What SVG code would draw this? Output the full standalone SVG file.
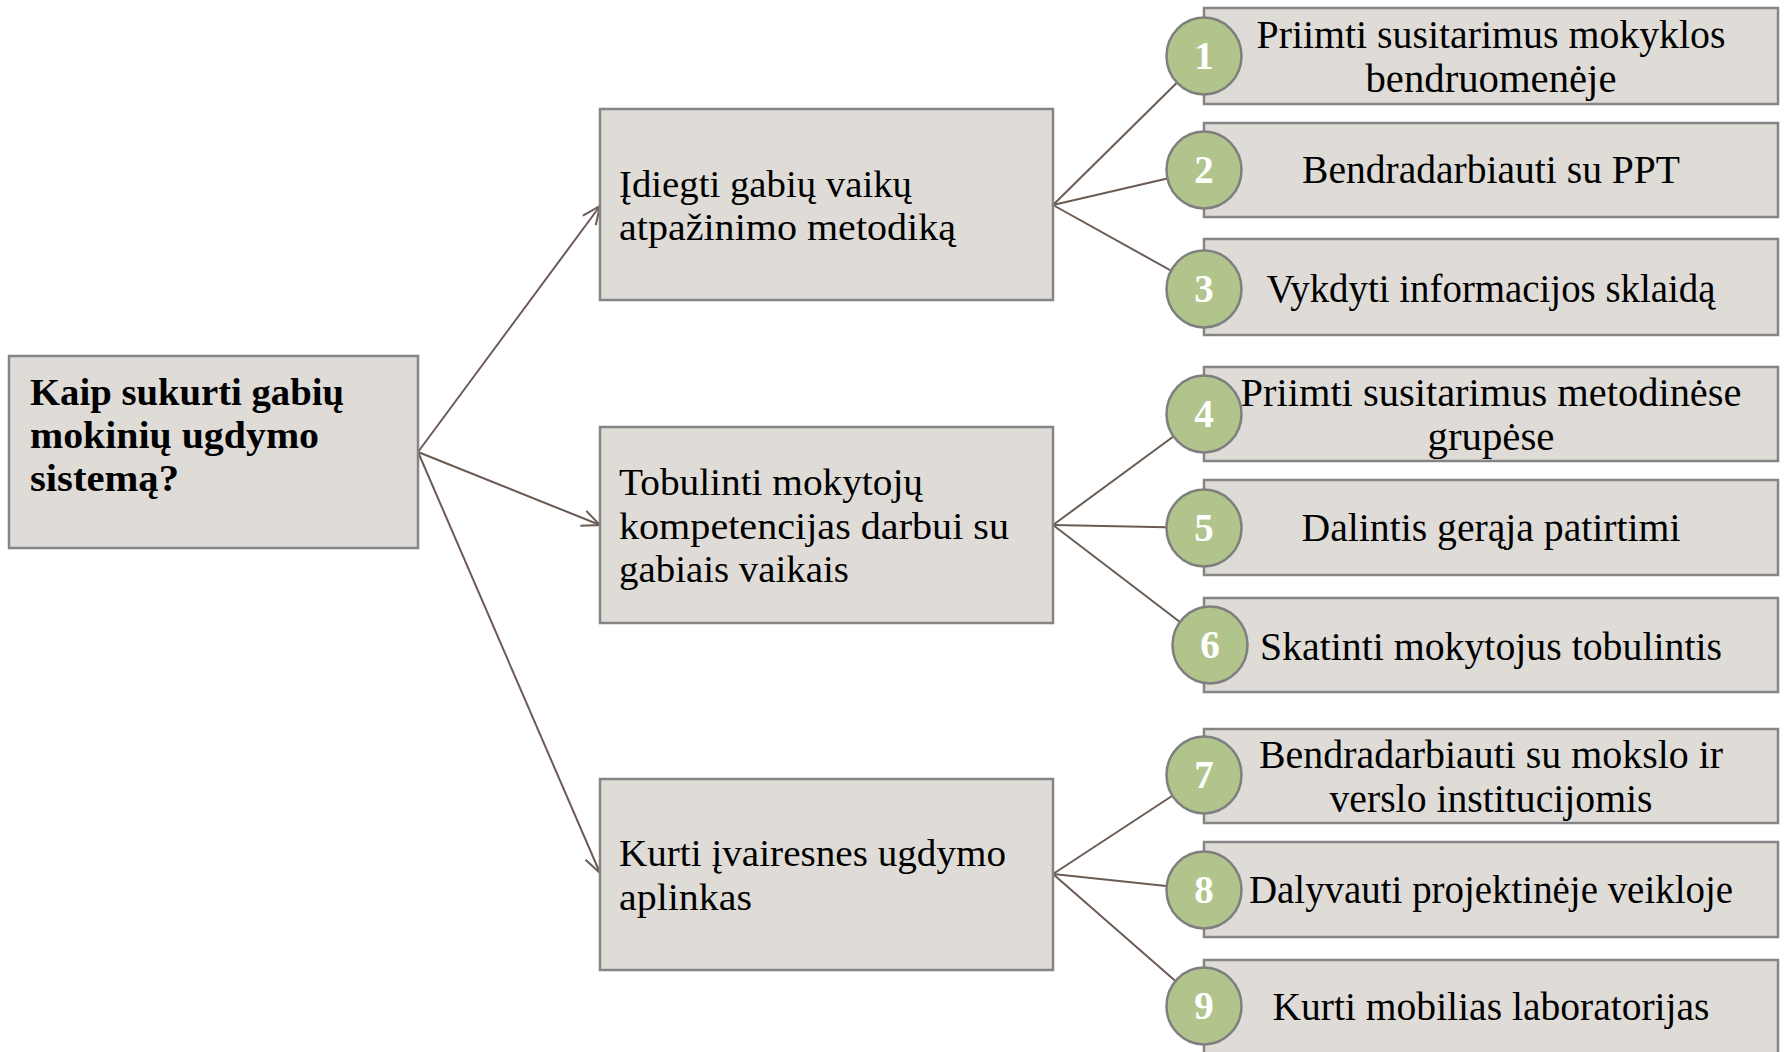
<svg xmlns="http://www.w3.org/2000/svg" width="1785" height="1052" viewBox="0 0 1785 1052">
<defs>
<style>
.box{fill:#DFDBD7;stroke:#858585;stroke-width:2.5}
.dot{fill:#B0C48B;stroke:#7F7F7F;stroke-width:2.5}
.num{font-family:"Liberation Serif",serif;font-weight:bold;font-size:39px;fill:#FFFFFF;text-anchor:middle}
.t{font-family:"Liberation Serif",serif;font-size:37px;fill:#000}
.tc{font-family:"Liberation Serif",serif;font-size:39px;fill:#000;text-anchor:middle}
.tb{font-family:"Liberation Serif",serif;font-size:38px;font-weight:bold;fill:#000}
.ln{stroke:#6B5B53;stroke-width:2;fill:none}
</style>
<marker id="arr2" viewBox="0 0 20 20" refX="19" refY="10" markerWidth="20" markerHeight="20" markerUnits="userSpaceOnUse" orient="auto">
<path d="M1,2 L19,10 L1,18" fill="none" stroke="#6B5B53" stroke-width="2"/>
</marker>
</defs>
<rect width="1785" height="1052" fill="#FFFFFF"/>
<g id="connectors">
<line class="ln" x1="418" y1="452" x2="600" y2="206" marker-end="url(#arr2)"/>
<line class="ln" x1="418" y1="452" x2="600" y2="525" marker-end="url(#arr2)"/>
<line class="ln" x1="418" y1="452" x2="600" y2="873" marker-end="url(#arr2)"/>
<line class="ln" x1="1053" y1="205" x2="1204" y2="56"/>
<line class="ln" x1="1053" y1="205" x2="1204" y2="170"/>
<line class="ln" x1="1053" y1="205" x2="1204" y2="289"/>
<line class="ln" x1="1053" y1="525" x2="1204" y2="414"/>
<line class="ln" x1="1053" y1="525" x2="1204" y2="528"/>
<line class="ln" x1="1053" y1="525" x2="1210" y2="645"/>
<line class="ln" x1="1053" y1="874" x2="1204" y2="775"/>
<line class="ln" x1="1053" y1="874" x2="1204" y2="890"/>
<line class="ln" x1="1053" y1="874" x2="1204" y2="1006"/>
</g>
<g id="root">
<rect class="box" x="9" y="356" width="409" height="192"/>
<text class="tb" x="30" y="405" textLength="314" lengthAdjust="spacingAndGlyphs">Kaip sukurti gabių</text>
<text class="tb" x="30" y="448" textLength="289" lengthAdjust="spacingAndGlyphs">mokinių ugdymo</text>
<text class="tb" x="30" y="491" textLength="149" lengthAdjust="spacingAndGlyphs">sistemą?</text>
</g>
<g id="mid1">
<rect class="box" x="600" y="109" width="453" height="191"/>
<text class="t" x="619" y="197" textLength="293" lengthAdjust="spacingAndGlyphs">Įdiegti gabių vaikų</text>
<text class="t" x="619" y="240" textLength="337" lengthAdjust="spacingAndGlyphs">atpažinimo metodiką</text>
</g>
<g id="mid2">
<rect class="box" x="600" y="427" width="453" height="196"/>
<text class="t" x="619" y="495" textLength="304" lengthAdjust="spacingAndGlyphs">Tobulinti mokytojų</text>
<text class="t" x="619" y="539" textLength="390" lengthAdjust="spacingAndGlyphs">kompetencijas darbui su</text>
<text class="t" x="619" y="582" textLength="230" lengthAdjust="spacingAndGlyphs">gabiais vaikais</text>
</g>
<g id="mid3">
<rect class="box" x="600" y="779" width="453" height="191"/>
<text class="t" x="619" y="866" textLength="387" lengthAdjust="spacingAndGlyphs">Kurti įvairesnes ugdymo</text>
<text class="t" x="619" y="910" textLength="133" lengthAdjust="spacingAndGlyphs">aplinkas</text>
</g>
<g id="item1">
<rect class="box" x="1204" y="8" width="574" height="96"/>
<text class="tc" x="1491" y="48" textLength="469" lengthAdjust="spacingAndGlyphs">Priimti susitarimus mokyklos</text>
<text class="tc" x="1491" y="92" textLength="251" lengthAdjust="spacingAndGlyphs">bendruomenėje</text>
<ellipse class="dot" cx="1204" cy="56" rx="37.5" ry="38.5"/>
<text class="num" x="1204" y="69">1</text>
</g>
<g id="item2">
<rect class="box" x="1204" y="123" width="574" height="94"/>
<text class="tc" x="1491" y="183" textLength="378" lengthAdjust="spacingAndGlyphs">Bendradarbiauti su PPT</text>
<ellipse class="dot" cx="1204" cy="170" rx="37.5" ry="38.5"/>
<text class="num" x="1204" y="183">2</text>
</g>
<g id="item3">
<rect class="box" x="1204" y="239" width="574" height="96"/>
<text class="tc" x="1491" y="302" textLength="449" lengthAdjust="spacingAndGlyphs">Vykdyti informacijos sklaidą</text>
<ellipse class="dot" cx="1204" cy="289" rx="37.5" ry="38.5"/>
<text class="num" x="1204" y="302">3</text>
</g>
<g id="item4">
<rect class="box" x="1204" y="367" width="574" height="94"/>
<text class="tc" x="1491" y="406" textLength="501" lengthAdjust="spacingAndGlyphs">Priimti susitarimus metodinėse</text>
<text class="tc" x="1491" y="450" textLength="127" lengthAdjust="spacingAndGlyphs">grupėse</text>
<ellipse class="dot" cx="1204" cy="414" rx="37.5" ry="38.5"/>
<text class="num" x="1204" y="427">4</text>
</g>
<g id="item5">
<rect class="box" x="1204" y="480" width="574" height="95"/>
<text class="tc" x="1491" y="541" textLength="379" lengthAdjust="spacingAndGlyphs">Dalintis gerąja patirtimi</text>
<ellipse class="dot" cx="1204" cy="528" rx="37.5" ry="38.5"/>
<text class="num" x="1204" y="541">5</text>
</g>
<g id="item6">
<rect class="box" x="1204" y="598" width="574" height="94"/>
<text class="tc" x="1491" y="660" textLength="462" lengthAdjust="spacingAndGlyphs">Skatinti mokytojus tobulintis</text>
<ellipse class="dot" cx="1210" cy="645" rx="37.5" ry="38.5"/>
<text class="num" x="1210" y="658">6</text>
</g>
<g id="item7">
<rect class="box" x="1204" y="729" width="574" height="94"/>
<text class="tc" x="1491" y="768" textLength="464" lengthAdjust="spacingAndGlyphs">Bendradarbiauti su mokslo ir</text>
<text class="tc" x="1491" y="812" textLength="323" lengthAdjust="spacingAndGlyphs">verslo institucijomis</text>
<ellipse class="dot" cx="1204" cy="775" rx="37.5" ry="38.5"/>
<text class="num" x="1204" y="788">7</text>
</g>
<g id="item8">
<rect class="box" x="1204" y="842" width="574" height="95"/>
<text class="tc" x="1491" y="903" textLength="484" lengthAdjust="spacingAndGlyphs">Dalyvauti projektinėje veikloje</text>
<ellipse class="dot" cx="1204" cy="890" rx="37.5" ry="38.5"/>
<text class="num" x="1204" y="903">8</text>
</g>
<g id="item9">
<rect class="box" x="1204" y="960" width="574" height="100"/>
<text class="tc" x="1491" y="1020" textLength="437" lengthAdjust="spacingAndGlyphs">Kurti mobilias laboratorijas</text>
<ellipse class="dot" cx="1204" cy="1006" rx="37.5" ry="38.5"/>
<text class="num" x="1204" y="1019">9</text>
</g>
</svg>
